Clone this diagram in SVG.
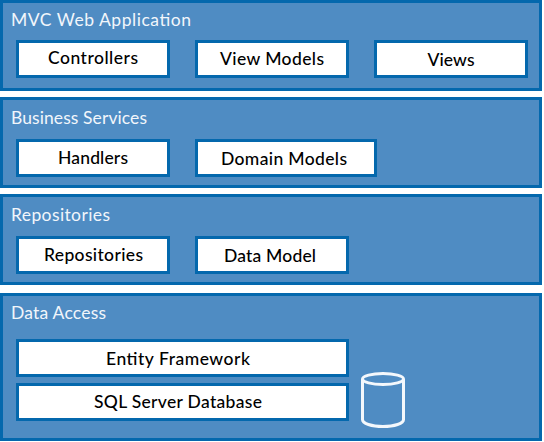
<svg xmlns="http://www.w3.org/2000/svg" width="544" height="442" viewBox="0 0 544 442">
<style>
.layer{fill:#4f8cc3;stroke:#0468ad;stroke-width:3}
.box{fill:#fff;stroke:#0468ad;stroke-width:3}
text{font-family:"Lato","Open Sans",sans-serif;font-size:17.5px}
.t{fill:#f2f6fb}
.l{fill:#000;text-anchor:middle;font-weight:500}
.db{fill:none;stroke:#f4f8fc;stroke-width:3}
</style>
<rect width="544" height="442" fill="#fff"/>
<g id="layer-mvc"><rect class="layer" x="1.500" y="1.500" width="539" height="88"/><text class="t" x="11" y="26" textLength="180">MVC Web Application</text></g>
<g id="layer-business"><rect class="layer" x="1.500" y="98.500" width="539" height="88"/><text class="t" x="11" y="124" textLength="136">Business Services</text></g>
<g id="layer-repositories"><rect class="layer" x="1.500" y="195.500" width="539" height="88"/><text class="t" x="11" y="221" textLength="99">Repositories</text></g>
<g id="layer-data"><rect class="layer" x="1.500" y="294.500" width="539" height="145"/><text class="t" x="11" y="319" textLength="95">Data Access</text></g>
<g id="controllers"><rect class="box" x="17.500" y="41.500" width="151" height="35"/><text class="l" x="93" y="64" textLength="90">Controllers</text></g>
<g id="view-models"><rect class="box" x="196.500" y="41.500" width="151" height="35"/><text class="l" x="272" y="65" textLength="104">View Models</text></g>
<g id="views"><rect class="box" x="375.500" y="41.500" width="151" height="35"/><text class="l" x="451" y="66" textLength="47">Views</text></g>
<g id="handlers"><rect class="box" x="17.500" y="140.500" width="151" height="35"/><text class="l" x="93" y="164" textLength="70">Handlers</text></g>
<g id="domain-models"><rect class="box" x="196.500" y="140.500" width="179" height="35"/><text class="l" x="284" y="165" textLength="126">Domain Models</text></g>
<g id="repositories"><rect class="box" x="17.500" y="237.500" width="151" height="35"/><text class="l" x="93.500" y="261" textLength="99">Repositories</text></g>
<g id="data-model"><rect class="box" x="196.500" y="237.500" width="151" height="35"/><text class="l" x="270" y="262" textLength="92">Data Model</text></g>
<g id="entity-framework"><rect class="box" x="17.500" y="340.500" width="330" height="35"/><text class="l" x="178" y="365" textLength="144">Entity Framework</text></g>
<g id="sql-server"><rect class="box" x="17.500" y="384.500" width="330" height="35"/><text class="l" x="178" y="408" textLength="168">SQL Server Database</text></g>
<g id="database"><path class="db" d="M362.500 379V419.500C362.500 423.500 371.500 426.500 383 426.500S403.500 423.500 403.500 419.500V379"/><ellipse class="db" cx="383" cy="379" rx="20.500" ry="5.500"/></g>
<g id="connectors"/>
</svg>
